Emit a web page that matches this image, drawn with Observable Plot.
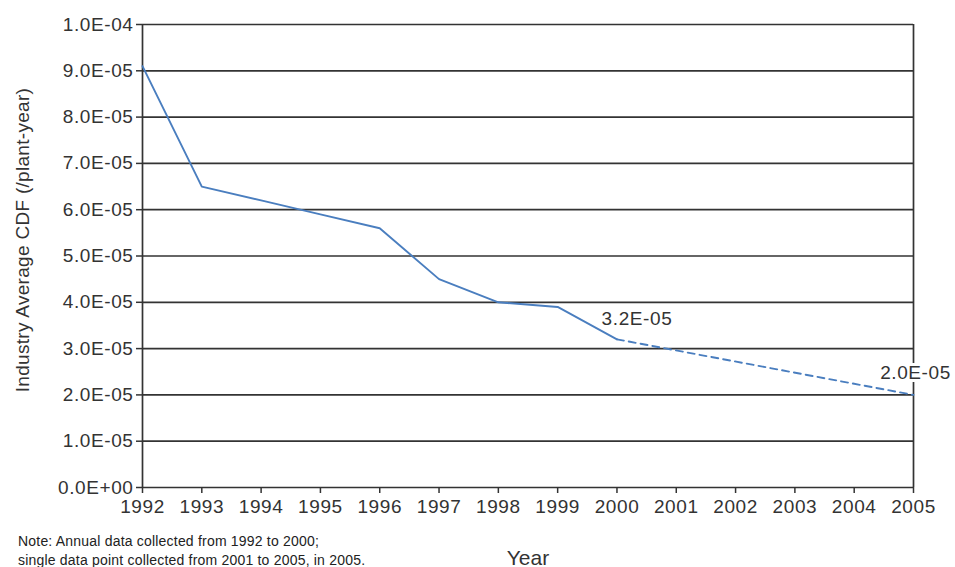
<!DOCTYPE html>
<html>
<head>
<meta charset="utf-8">
<script src="https://cdn.jsdelivr.net/npm/d3@7"></script>
<script src="https://cdn.jsdelivr.net/npm/@observablehq/plot@0.6"></script>
<style>
  html, body { margin: 0; padding: 0; background: #fff; }
  #wrap { position: relative; width: 955px; height: 567px; font-family: "Liberation Sans", Arial, sans-serif; }
  #note { position: absolute; left: 18px; top: 532px; font-size: 14px; letter-spacing: 0.2px; line-height: 19px; color: #222; }
  .tk text { letter-spacing: 0.6px; }
  .yl text { letter-spacing: 0.3px; }
</style>
</head>
<body>
<div id="wrap">
  <div id="chart"></div>
  <div id="note"></div>
</div>
<script>
// Annual data 1992–2000
const years = [1992, 1993, 1994, 1995, 1996, 1997, 1998, 1999, 2000];
const cdf = [9.1e-5, 6.5e-5, 6.2e-5, 5.9e-5, 5.6e-5, 4.5e-5, 4.0e-5, 3.9e-5, 3.2e-5];
// Single data point 2005 (dashed projection from 2000)
const projYears = [2000, 2005];
const projCdf = [3.2e-5, 2.0e-5];
// Annotations
const labelYears = [2000, 2005];
const labelValues = [3.2e-5, 2.0e-5];
const labelTexts = ["3.2E-05", "2.0E-05"];
// Ticks
const xTicks = [1992, 1993, 1994, 1995, 1996, 1997, 1998, 1999, 2000, 2001, 2002, 2003, 2004, 2005];
const yTicks = [0, 1e-5, 2e-5, 3e-5, 4e-5, 5e-5, 6e-5, 7e-5, 8e-5, 9e-5, 1e-4];
const yLabel = "Industry Average CDF (/plant-year)";
const xLabel = "Year";
const noteLines = ["Note: Annual data collected from 1992 to 2000;", "single data point collected from 2001 to 2005, in 2005."];

const actual = years.map((y, i) => ({year: y, v: cdf[i]}));
const proj = projYears.map((y, i) => ({year: y, v: projCdf[i]}));
const labels = labelYears.map((y, i) => ({year: y, v: labelValues[i], t: labelTexts[i]}));

function fmtE(d) {
  const s = d.toExponential(1);
  const [m, e] = s.split("e");
  const sign = e[0] === "-" ? "-" : "+";
  const n = Math.abs(+e);
  return m + "E" + sign + String(n).padStart(2, "0");
}

const ink = "#333";
const blue = "#4a7ebf";
const fs = 19;

const chart = Plot.plot({
  width: 955,
  height: 567,
  marginLeft: 142,
  marginRight: 42,
  marginTop: 24,
  marginBottom: 80,
  style: {fontFamily: "'Liberation Sans', Arial, sans-serif", fontSize: fs + "px", color: ink, background: "#fff"},
  x: {domain: [1992, 2005], label: null},
  y: {domain: [0, 1e-4], label: null},
  marks: [
    Plot.ruleY(yTicks, {stroke: ink, strokeWidth: 1.7}),
    Plot.ruleX([1992, 2005], {y1: 0, y2: 1e-4, stroke: ink, strokeWidth: 1.7}),
    Plot.line(actual, {x: "year", y: "v", stroke: blue, strokeWidth: 1.9}),
    Plot.line(proj, {x: "year", y: "v", stroke: blue, strokeWidth: 1.9, strokeDasharray: "7,5"}),
    Plot.text(labels.slice(0, 1), {x: "year", y: "v", text: "t", dx: 20, dy: -20, fontSize: fs, fill: ink, className: "tk"}),
    Plot.text(labels.slice(1), {x: "year", y: "v", text: "t", dx: 2, dy: -22, fontSize: fs, fill: ink, stroke: "white", strokeWidth: 6, paintOrder: "stroke", className: "tk"}),
    Plot.axisX({ticks: xTicks, tickFormat: d => String(d), tickSize: 6, tickPadding: 6, stroke: ink, strokeWidth: 1.5, fill: ink, fontSize: fs, label: null, className: "tk"}),
    Plot.axisY({ticks: yTicks, tickFormat: fmtE, tickSize: 6, tickPadding: 3, stroke: ink, strokeWidth: 1.5, fill: ink, fontSize: fs, label: null, className: "tk"}),
    Plot.text([xLabel], {frameAnchor: "bottom", dy: 77, fontSize: 21, fill: ink}),
    Plot.text([yLabel], {frameAnchor: "left", textAnchor: "middle", dx: -120, dy: -16, rotate: -90, fontSize: 19, fill: ink, className: "yl"})
  ]
});
document.getElementById("chart").appendChild(chart);
document.getElementById("note").innerHTML = noteLines.join("<br>");
</script>
</body>
</html>
